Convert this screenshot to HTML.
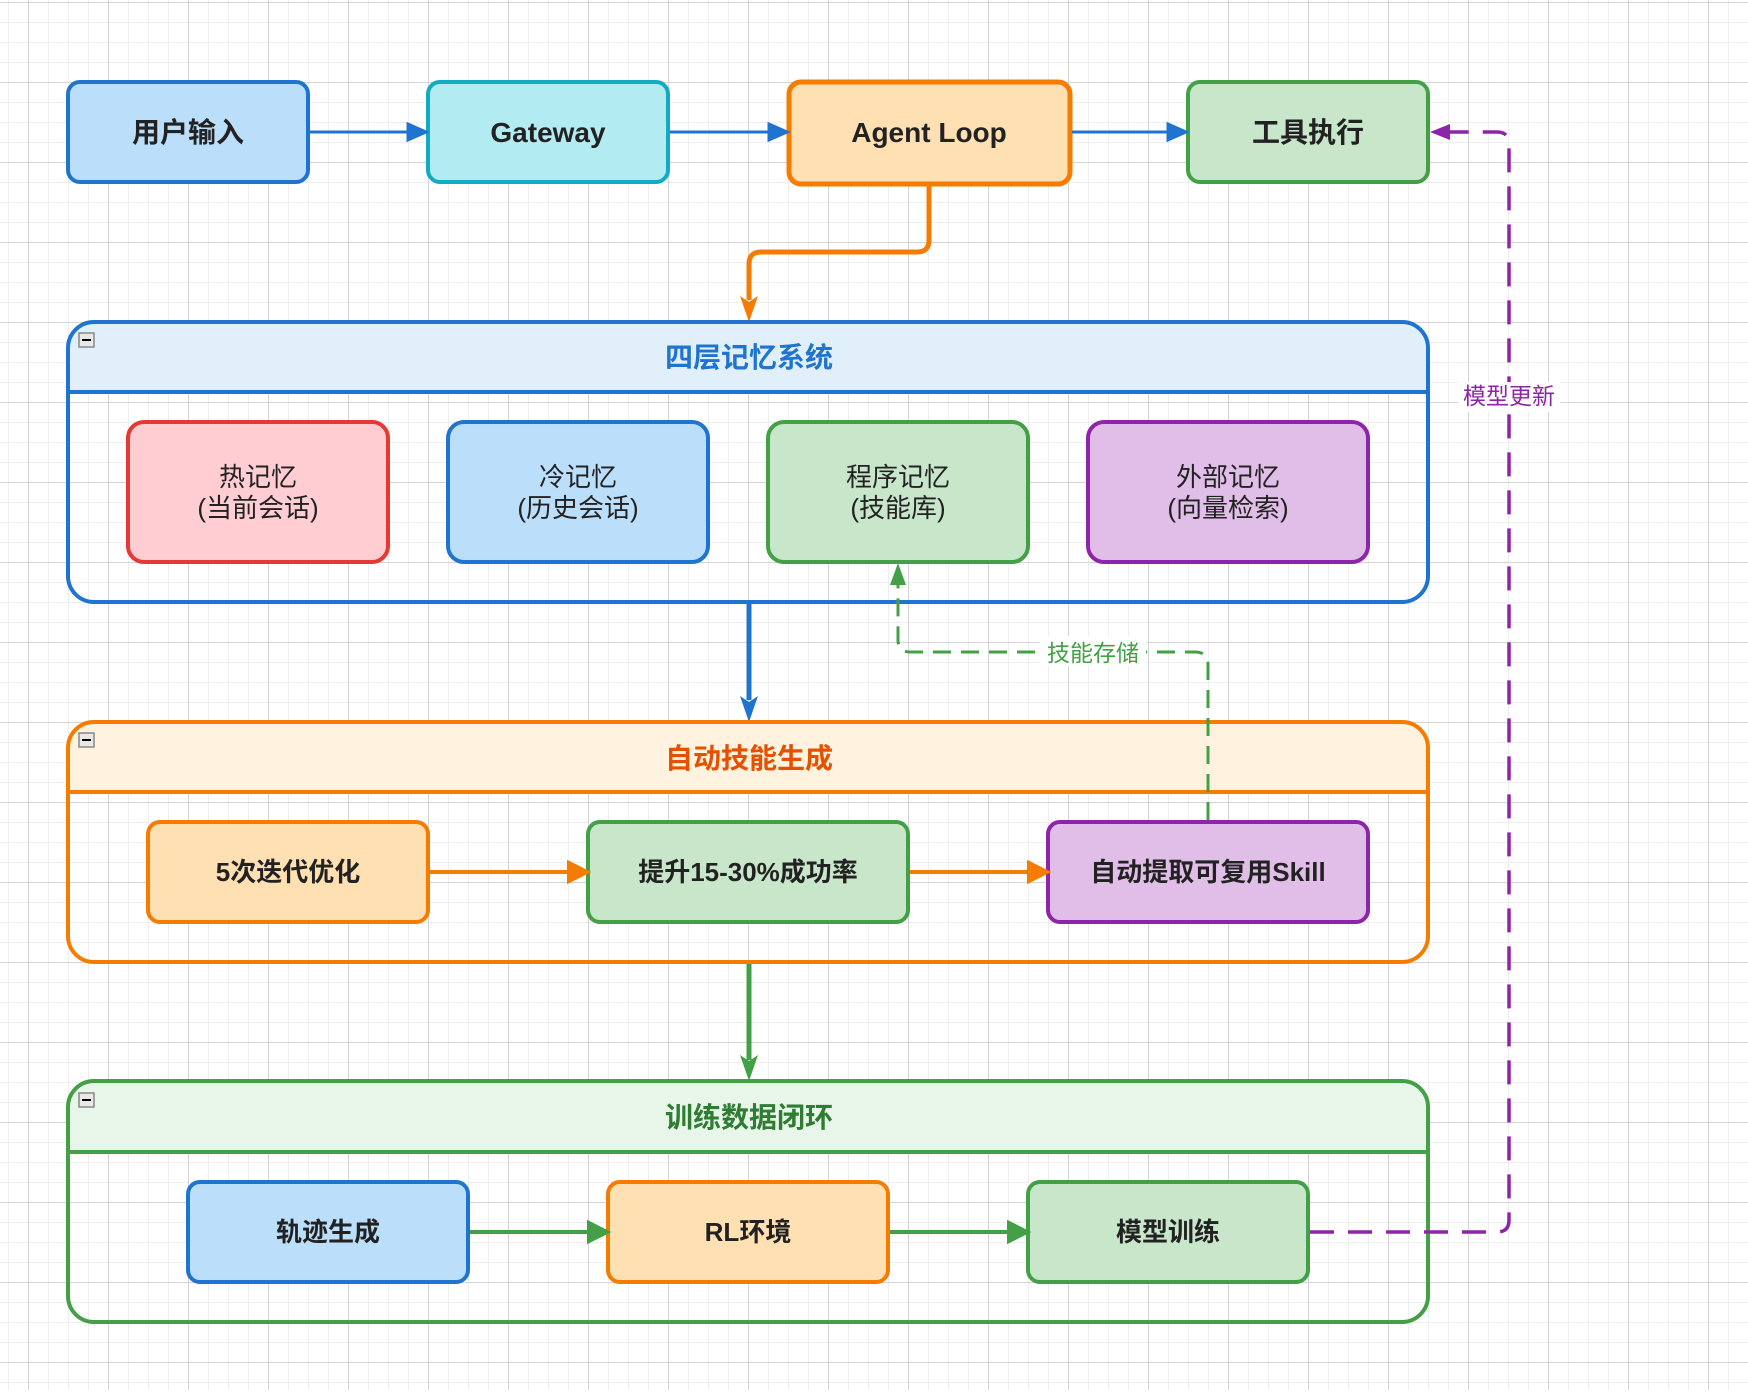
<!DOCTYPE html>
<html><head><meta charset="utf-8"><style>
html,body{margin:0;padding:0;background:#fff;}
body{width:1748px;height:1390px;overflow:hidden;
background-image:
linear-gradient(to right,#d4d4d4 1px,transparent 1px),
linear-gradient(to bottom,#d4d4d4 1px,transparent 1px),
linear-gradient(to right,#eeeeee 1px,transparent 1px),
linear-gradient(to bottom,#eeeeee 1px,transparent 1px);
background-size:80px 80px,80px 80px,20px 20px,20px 20px;
background-position:28px 2px,28px 2px,8px 2px,8px 2px;}
svg text{font-family:"Liberation Sans","Noto Sans CJK SC",sans-serif;}
</style></head><body>
<svg width="1748" height="1390" xmlns="http://www.w3.org/2000/svg">
<!-- top row -->
<rect x="68" y="82" width="240" height="100" rx="12" fill="#bbdefb" stroke="#1f74d0" stroke-width="4"/>
<text x="188" y="142" font-size="28" font-weight="bold" text-anchor="middle" fill="#222">用户输入</text>
<rect x="428" y="82" width="240" height="100" rx="12" fill="#b2ebf2" stroke="#11acc1" stroke-width="4"/>
<text x="548" y="142" font-size="28" font-weight="bold" text-anchor="middle" fill="#222">Gateway</text>
<rect x="789" y="82" width="281" height="102" rx="12" fill="#ffe0b2" stroke="#f57c00" stroke-width="5"/>
<text x="929" y="142" font-size="28" font-weight="bold" text-anchor="middle" fill="#222">Agent Loop</text>
<rect x="1188" y="82" width="240" height="100" rx="12" fill="#c8e6c9" stroke="#43a047" stroke-width="4"/>
<text x="1308" y="142" font-size="28" font-weight="bold" text-anchor="middle" fill="#222">工具执行</text>
<g stroke="#1f74d0" stroke-width="3">
<line x1="310" y1="132" x2="412" y2="132"/><polygon points="426,132 408,124 408,140" fill="#1f74d0"/>
<line x1="670" y1="132" x2="772" y2="132"/><polygon points="787,132 769,124 769,140" fill="#1f74d0"/>
<line x1="1072" y1="132" x2="1172" y2="132"/><polygon points="1186,132 1168,124 1168,140" fill="#1f74d0"/>
</g>
<!-- orange connector -->
<path d="M929,186 L929,240 Q929,252 917,252 L761,252 Q749,252 749,264 L749,300" fill="none" stroke="#f57c00" stroke-width="5"/>
<polygon points="749,322 740,296 749,302 758,296" fill="#f57c00"/>
<!-- container 1 -->
<path d="M68,391 L68,348 Q68,322 94,322 L1402,322 Q1428,322 1428,348 L1428,391z" fill="#e1effb"/>
<rect x="68" y="322" width="1360" height="280" rx="26" fill="none" stroke="#1f74d0" stroke-width="4"/>
<line x1="68" y1="392" x2="1428" y2="392" stroke="#1f74d0" stroke-width="4"/>
<rect x="79" y="333" width="15" height="14" fill="#e8e8e8" stroke="#888" stroke-width="1.5"/><line x1="82" y1="340" x2="91" y2="340" stroke="#000" stroke-width="2"/>
<text x="749" y="367" font-size="28" font-weight="bold" text-anchor="middle" fill="#1f74d0">四层记忆系统</text>
<rect x="128" y="422" width="260" height="140" rx="16" fill="#ffcdd2" stroke="#e53935" stroke-width="4"/>
<text x="258" y="486" font-size="26" text-anchor="middle" fill="#222">热记忆</text><text x="258" y="517" font-size="26" text-anchor="middle" fill="#222">(当前会话)</text>
<rect x="448" y="422" width="260" height="140" rx="16" fill="#bbdefb" stroke="#1f74d0" stroke-width="4"/>
<text x="578" y="486" font-size="26" text-anchor="middle" fill="#222">冷记忆</text><text x="578" y="517" font-size="26" text-anchor="middle" fill="#222">(历史会话)</text>
<rect x="768" y="422" width="260" height="140" rx="16" fill="#c8e6c9" stroke="#43a047" stroke-width="4"/>
<text x="898" y="486" font-size="26" text-anchor="middle" fill="#222">程序记忆</text><text x="898" y="517" font-size="26" text-anchor="middle" fill="#222">(技能库)</text>
<rect x="1088" y="422" width="280" height="140" rx="16" fill="#e1bee7" stroke="#8e24aa" stroke-width="4"/>
<text x="1228" y="486" font-size="26" text-anchor="middle" fill="#222">外部记忆</text><text x="1228" y="517" font-size="26" text-anchor="middle" fill="#222">(向量检索)</text>
<!-- blue down -->
<line x1="749" y1="604" x2="749" y2="700" stroke="#1f74d0" stroke-width="5"/>
<polygon points="749,722 740,696 749,702 758,696" fill="#1f74d0"/>
<!-- container 2 -->
<path d="M68,792 L68,748 Q68,722 94,722 L1402,722 Q1428,722 1428,748 L1428,792z" fill="#fff3e0"/>
<rect x="68" y="722" width="1360" height="240" rx="26" fill="none" stroke="#f57c00" stroke-width="4"/>
<line x1="68" y1="792" x2="1428" y2="792" stroke="#f57c00" stroke-width="4"/>
<rect x="79" y="733" width="15" height="14" fill="#e8e8e8" stroke="#888" stroke-width="1.5"/><line x1="82" y1="740" x2="91" y2="740" stroke="#000" stroke-width="2"/>
<text x="749" y="768" font-size="28" font-weight="bold" text-anchor="middle" fill="#e65100">自动技能生成</text>
<rect x="148" y="822" width="280" height="100" rx="12" fill="#ffe0b2" stroke="#f57c00" stroke-width="4"/>
<text x="288" y="881" font-size="26" font-weight="bold" text-anchor="middle" fill="#222">5次迭代优化</text>
<rect x="588" y="822" width="320" height="100" rx="12" fill="#c8e6c9" stroke="#43a047" stroke-width="4"/>
<text x="748" y="881" font-size="26" font-weight="bold" text-anchor="middle" fill="#222">提升15-30%成功率</text>
<rect x="1048" y="822" width="320" height="100" rx="12" fill="#e1bee7" stroke="#8e24aa" stroke-width="4"/>
<text x="1208" y="881" font-size="26" font-weight="bold" text-anchor="middle" fill="#222">自动提取可复用Skill</text>
<g stroke="#f57c00" stroke-width="4">
<line x1="430" y1="872" x2="572" y2="872"/><polygon points="587,872 569,863 569,881" fill="#f57c00"/>
<line x1="910" y1="872" x2="1032" y2="872"/><polygon points="1047,872 1029,863 1029,881" fill="#f57c00"/>
</g>
<!-- green dashed skill storage -->
<path d="M1208,820 L1208,665 Q1208,652 1195,652 L910,652 Q898,652 898,640 L898,580" fill="none" stroke="#43a047" stroke-width="3" stroke-dasharray="18,10"/>
<polygon points="898,563 890,585 906,585" fill="#43a047"/>
<rect x="1040" y="636" width="106" height="30" fill="#fff"/>
<text x="1093" y="661" font-size="23" text-anchor="middle" fill="#43a047">技能存储</text>
<!-- green down -->
<line x1="749" y1="964" x2="749" y2="1060" stroke="#43a047" stroke-width="5"/>
<polygon points="749,1081 740,1055 749,1061 758,1055" fill="#43a047"/>
<!-- container 3 -->
<path d="M68,1152 L68,1107 Q68,1081 94,1081 L1402,1081 Q1428,1081 1428,1107 L1428,1152z" fill="#e8f5e9"/>
<rect x="68" y="1081" width="1360" height="241" rx="26" fill="none" stroke="#43a047" stroke-width="4"/>
<line x1="68" y1="1152" x2="1428" y2="1152" stroke="#43a047" stroke-width="4"/>
<rect x="79" y="1093" width="15" height="14" fill="#e8e8e8" stroke="#888" stroke-width="1.5"/><line x1="82" y1="1100" x2="91" y2="1100" stroke="#000" stroke-width="2"/>
<text x="749" y="1127" font-size="28" font-weight="bold" text-anchor="middle" fill="#2e7d32">训练数据闭环</text>
<rect x="188" y="1182" width="280" height="100" rx="12" fill="#bbdefb" stroke="#1f74d0" stroke-width="4"/>
<text x="328" y="1241" font-size="26" font-weight="bold" text-anchor="middle" fill="#222">轨迹生成</text>
<rect x="608" y="1182" width="280" height="100" rx="12" fill="#ffe0b2" stroke="#f57c00" stroke-width="4"/>
<text x="748" y="1241" font-size="26" font-weight="bold" text-anchor="middle" fill="#222">RL环境</text>
<rect x="1028" y="1182" width="280" height="100" rx="12" fill="#c8e6c9" stroke="#43a047" stroke-width="4"/>
<text x="1168" y="1241" font-size="26" font-weight="bold" text-anchor="middle" fill="#222">模型训练</text>
<g stroke="#43a047" stroke-width="4">
<line x1="470" y1="1232" x2="592" y2="1232"/><polygon points="607,1232 589,1223 589,1241" fill="#43a047"/>
<line x1="890" y1="1232" x2="1012" y2="1232"/><polygon points="1027,1232 1009,1223 1009,1241" fill="#43a047"/>
</g>
<!-- purple dashed -->
<path d="M1310,1232 L1497,1232 Q1509,1232 1509,1220 L1509,144 Q1509,132 1497,132 L1446,132" fill="none" stroke="#8e24aa" stroke-width="3.5" stroke-dasharray="24,14"/>
<polygon points="1430,132 1450,124 1450,140" fill="#8e24aa"/>
<rect x="1458" y="382" width="102" height="30" fill="#fff"/>
<text x="1509" y="404" font-size="23" text-anchor="middle" fill="#8e24aa">模型更新</text>
</svg>
</body></html>
